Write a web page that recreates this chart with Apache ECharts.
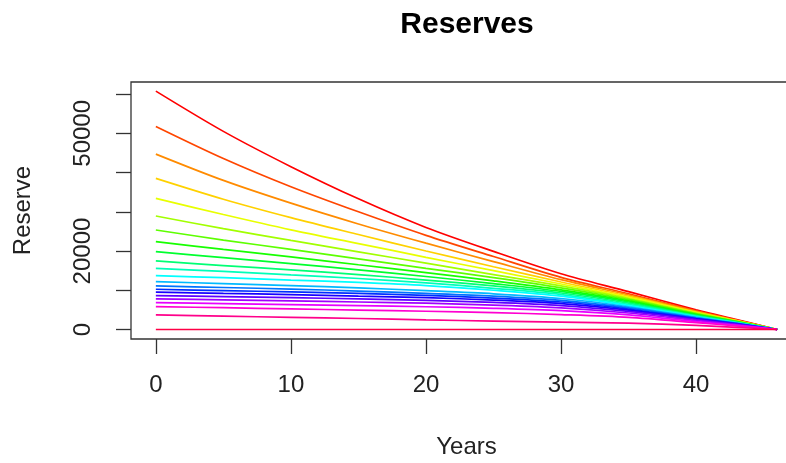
<!DOCTYPE html>
<html>
<head>
<meta charset="utf-8">
<script src="https://cdn.jsdelivr.net/npm/echarts@6/dist/echarts.min.js"></script>
<style>html,body{margin:0;padding:0;background:#fff}#c{width:786px;height:463px}</style>
</head>
<body>
<div id="c"></div>
<script>
// Years at which values were read
const years = [0, 5, 10, 15, 20, 25, 30, 35, 40, 43, 46];
// Reserve curves, top to bottom
const r01 = [60760, 50500, 41500, 33300, 26000, 19900, 14200, 9650, 5000, 2500, 0];
const r02 = [51770, 43600, 36400, 30000, 24000, 18600, 13300, 9100, 4750, 2400, 0];
const r03 = [44710, 38000, 32200, 26900, 22000, 17300, 12700, 8800, 4600, 2300, 0];
const r04 = [38520, 33200, 28500, 24200, 20000, 16000, 12100, 8500, 4450, 2250, 0];
const r05 = [33430, 29300, 25400, 21900, 18400, 15000, 11600, 8200, 4300, 2200, 0];
const r06 = [28930, 25700, 22700, 19800, 16900, 14000, 11100, 7900, 4150, 2100, 0];
const r07 = [25360, 22800, 20400, 18000, 15600, 13200, 10600, 7600, 4000, 2050, 0];
const r08 = [22390, 20400, 18500, 16500, 14500, 12400, 10100, 7300, 3850, 2000, 0];
const r09 = [19840, 18300, 16800, 15200, 13500, 11700, 9700, 7000, 3700, 1900, 0];
const r10 = [17470, 16300, 15200, 14000, 12600, 11100, 9300, 6700, 3550, 1850, 0];
const r11 = [15600, 14800, 13900, 13000, 11900, 10500, 8900, 6400, 3400, 1750, 0];
const r12 = [13730, 13200, 12600, 12000, 11200, 10000, 8500, 6100, 3250, 1700, 0];
const r13 = [12200, 11700, 11200, 10600, 9900, 9100, 7900, 5800, 3100, 1600, 0];
const r14 = [11100, 10700, 10300, 9800, 9200, 8500, 7400, 5500, 2950, 1550, 0];
const r15 = [10260, 9900, 9600, 9200, 8700, 8000, 7000, 5200, 2800, 1500, 0];
const r16 = [9500, 9200, 8900, 8500, 8100, 7500, 6600, 4950, 2700, 1400, 0];
const r17 = [8630, 8400, 8100, 7800, 7400, 6900, 6100, 4600, 2550, 1350, 0];
const r18 = [7790, 7550, 7300, 7000, 6700, 6200, 5500, 4200, 2300, 1200, 0];
const r19 = [6850, 6600, 6350, 6100, 5800, 5400, 4800, 3700, 2000, 1050, 0];
const r20 = [5830, 5550, 5250, 4950, 4650, 4300, 3800, 3100, 1750, 900, 0];
const r21 = [3720, 3400, 3100, 2800, 2450, 2150, 1900, 1600, 1050, 550, 0];
const r22 = [0, 0, 0, 0, 0, 0, 0, 0, 0, 0, 0];
const curves = [r01, r02, r03, r04, r05, r06, r07, r08, r09, r10, r11, r12, r13, r14, r15, r16, r17, r18, r19, r20, r21, r22];
// Tick values
const xTicks = [0, 10, 20, 30, 40];
const yTicks = [0, 10000, 20000, 30000, 40000, 50000, 60000];
const yLabels = [0, 20000, 50000];

function rainbow(k, n) {
  const h = (k / n) * 6;
  const i = Math.floor(h), f = h - i;
  const q = 1 - f, t = f;
  let r, g, b;
  switch (i % 6) {
    case 0: r = 1; g = t; b = 0; break;
    case 1: r = q; g = 1; b = 0; break;
    case 2: r = 0; g = 1; b = t; break;
    case 3: r = 0; g = q; b = 1; break;
    case 4: r = t; g = 0; b = 1; break;
    default: r = 1; g = 0; b = q;
  }
  const hx = v => Math.round(v * 255).toString(16).padStart(2, '0');
  return '#' + hx(r) + hx(g) + hx(b);
}

const series = curves.map((arr, k) => ({
  type: 'line',
  data: years.map((y, i) => [y, arr[i]]),
  symbol: 'none',
  smooth: 0.3,
  lineStyle: { width: 1.7, color: rainbow(k, curves.length) },
  silent: true
}));

const FONT = 'Liberation Sans, Arial, sans-serif';
const chart = echarts.init(document.getElementById('c'), null, { renderer: 'canvas' });
chart.setOption({
  animation: false,
  backgroundColor: '#ffffff',
  title: {
    text: 'Reserves',
    left: 462, top: 5, textAlign: 'center',
    textStyle: { fontFamily: FONT, fontSize: 30, fontWeight: 'bold', color: '#000' }
  },
  grid: {
    left: 131, top: 82, width: 671, height: 257,
    show: true, borderColor: '#333', borderWidth: 1.3, backgroundColor: 'transparent',
    outerBoundsMode: 'none', containLabel: false
  },
  xAxis: {
    type: 'value', min: -1.84, max: 47.84,
    name: 'Years', nameLocation: 'middle', nameGap: 96,
    nameTextStyle: { fontFamily: FONT, fontSize: 24, color: '#222' },
    axisLine: { show: false, onZero: false },
    axisTick: { show: true, length: 15, inside: false, customValues: xTicks, lineStyle: { color: '#333', width: 1.3 } },
    axisLabel: { customValues: xTicks, margin: 34, fontFamily: FONT, fontSize: 24, color: '#222', formatter: v => String(v) },
    splitLine: { show: false }
  },
  yAxis: {
    type: 'value', min: -2426, max: 63086,
    name: 'Reserve', nameLocation: 'middle', nameGap: 96, nameRotate: 90,
    nameTextStyle: { fontFamily: FONT, fontSize: 24, color: '#222' },
    axisLine: { show: false, onZero: false },
    axisTick: { show: true, length: 15, inside: false, customValues: yTicks, lineStyle: { color: '#333', width: 1.3 } },
    axisLabel: { customValues: yLabels, rotate: 90, margin: 36, fontFamily: FONT, fontSize: 24, color: '#222', formatter: v => String(v) },
    splitLine: { show: false }
  },
  series: series
});
</script>
</body>
</html>
